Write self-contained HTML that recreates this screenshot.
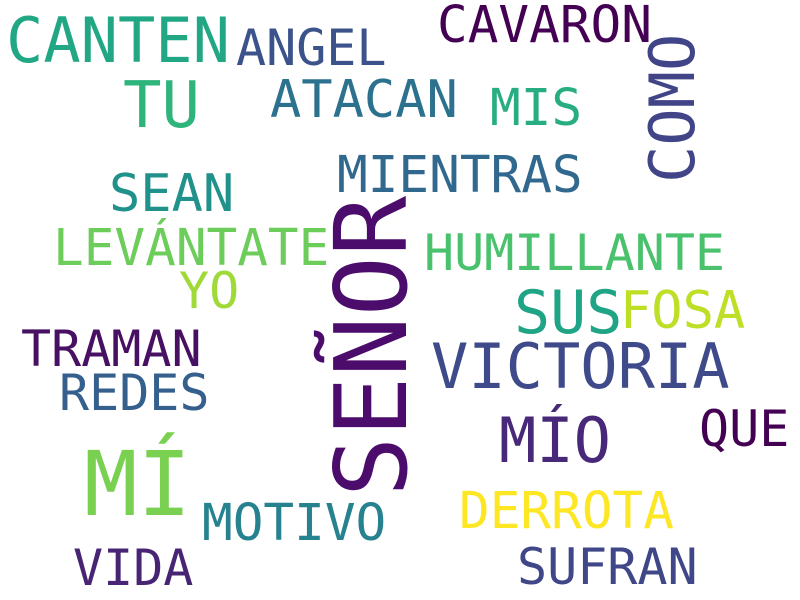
<!DOCTYPE html>
<html><head><meta charset="utf-8"><style>
html,body{margin:0;padding:0;background:#fff;width:800px;height:600px;overflow:hidden}
svg text{font-family:"DejaVu Sans Mono","Liberation Mono",monospace}
</style></head><body>
<svg id="cloud" width="800" height="600" viewBox="0 0 800 600" xmlns="http://www.w3.org/2000/svg">
<rect width="800" height="600" fill="#fff"/>
</svg>
<script>
const words=["CANTEN","CAVARON","ANGEL","TU","ATACAN","MIS","COMO","MIENTRAS","SEAN","LEVÁNTATE","HUMILLANTE","SEÑOR","YO","SUS","FOSA","TRAMAN","VICTORIA","REDES","MÍO","QUE","MÍ","DERROTA","MOTIVO","VIDA","SUFRAN"];
const sizes=[62,51,50,64,52,51,62,51,52,51,50,100,50,60,52,50,62,50,62,50,89,51,51,50,50];
const xs=[6,437,236,123,270,490,694,337,109,53,424,406,179,514,620,21,431,59,499,699,84,459,202,73,517];
const ys=[62,42,65,127,117,125,183,192,211,265,270,497,308,333,328,366,388,410,462,446,515,528,540,585,584];
const rot=[0,0,0,0,0,0,1,0,0,0,0,1,0,0,0,0,0,0,0,0,0,0,0,0,0];
const colors=["#22a785","#440154","#3b528b","#2fb47c","#2c728e","#27ad81","#414487","#31688e","#21918c","#6ccd5a","#4ac16d","#4b0c6b","#a0da39","#20a486","#bddf26","#471063","#3e4a89","#355f8d","#482878","#440154","#7ad151","#fde725","#26828e","#482475","#3f4788"];
const svg=document.getElementById('cloud');
words.forEach((w,i)=>{
  const t=document.createElementNS('http://www.w3.org/2000/svg','text');
  
  
  t.setAttribute('x',xs[i]);t.setAttribute('y',ys[i]);
  t.setAttribute('font-size',sizes[i]);t.setAttribute('fill',colors[i]);
  if(rot[i])t.setAttribute('transform','rotate(-90 '+xs[i]+' '+ys[i]+')');
  t.textContent=w;svg.appendChild(t);
});
</script>
</body></html>
